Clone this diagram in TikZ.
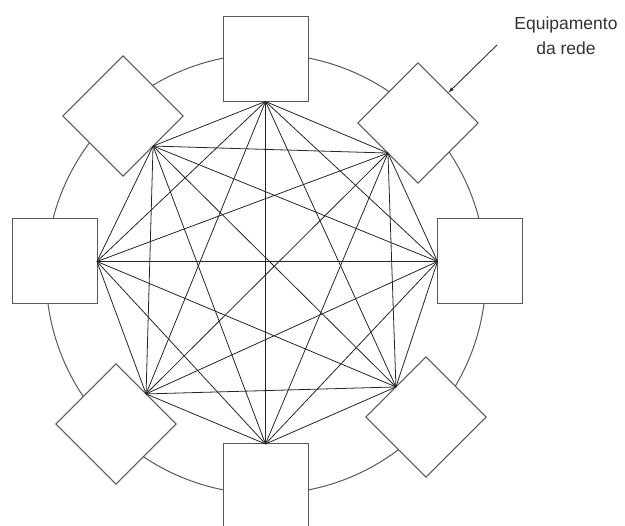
\documentclass[tikz,border=0pt]{standalone}
\usepackage{fontspec}
\setmainfont{Liberation Sans}
\usetikzlibrary{arrows.meta}
\begin{document}
\begin{tikzpicture}[x=1pt,y=-1pt,
  box/.style={draw=black!65, line width=1pt, fill=white, minimum size=85pt, inner sep=0pt, outer sep=0pt},
  dia/.style={box, rotate=45},
  link/.style={draw=black!85, line width=0.8pt},
  ring/.style={draw=black!65, line width=1pt},
  pointer/.style={draw=black!80, line width=0.9pt, -{Latex[length=6pt,width=4pt]}},
  label/.style={text=black!80, font=\fontsize{17.5}{25}\selectfont, align=center, inner sep=0pt}]
\useasboundingbox (0,0) rectangle (625,526);
\draw[ring] (266,274) circle[radius=220pt];
\node[box] (T) at (265.5,59) {};
\node[box] (L) at (54.5,261.5) {};
\node[box] (R) at (480,261.5) {};
\node[box] (B) at (265.5,486.5) {};
\node[dia] (UL) at (123,116) {};
\node[dia] (UR) at (418,123) {};
\node[dia] (LL) at (116,424) {};
\node[dia] (LR) at (426,417) {};
\coordinate (p1) at (T.south);
\coordinate (p2) at (UR.west);
\coordinate (p3) at (R.west);
\coordinate (p4) at (LR.north);
\coordinate (p5) at (B.north);
\coordinate (p6) at (LL.east);
\coordinate (p7) at (L.east);
\coordinate (p8) at (UL.south);
\foreach \i in {1,...,7}{
  \pgfmathtruncatemacro{\nxt}{\i+1}
  \foreach \j in {\nxt,...,8}{
    \draw[link] (p\i) -- (p\j);
  }
}
\node[label] (txt) at (566,36) {Equipamento\\da rede};
\coordinate (from) at (497,45);
\draw[pointer] (from) -- (UR.east);
\end{tikzpicture}
\end{document}
